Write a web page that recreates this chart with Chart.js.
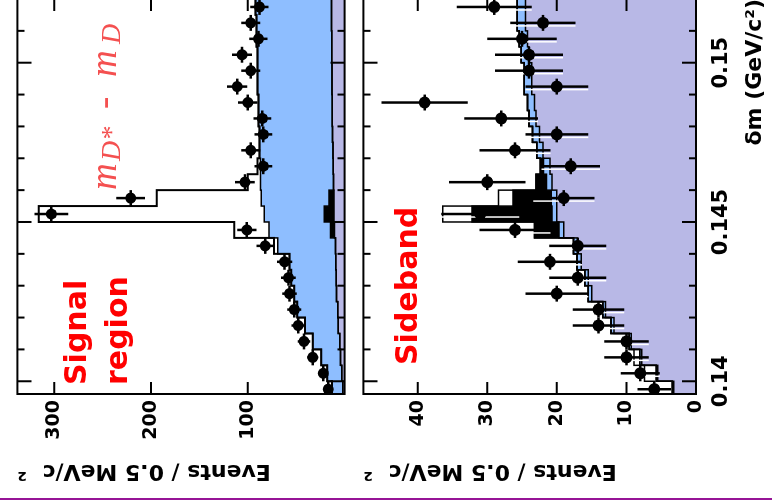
<!DOCTYPE html>
<html lang="en">
<head>
  <meta charset="utf-8" />
  <title>δm – signal region and sideband</title>
  <script src="https://cdn.jsdelivr.net/npm/chart.js"></script>
  <style>
    html, body { margin: 0; width: 772px; height: 501px; overflow: hidden; background: #fff; }
    body { position: relative; }
    /* the figure is drawn upright, then turned a quarter turn like the scan */
    #fig { position: absolute; left: 0; top: 501px; width: 510px; height: 772px; transform-origin: 0 0; transform: rotate(-90deg); }
    #fig canvas { position: absolute; left: 0; }
    #sig { top: 0; }
    #sb { top: 346px; }
    .rule { position: absolute; left: 0; top: 498px; width: 772px; height: 2px; background: #961496; }
  </style>
</head>
<body>
  <div id="fig">
    <canvas id="sig" width="510" height="362"></canvas>
    <canvas id="sb" width="510" height="426"></canvas>
  </div>
  <div class="rule"></div>

  <script>
    // δm bins, 0.5 MeV wide
    const binCenters = [0.13975, 0.14025, 0.14075, 0.14125, 0.14175, 0.14225, 0.14275, 0.14325, 0.14375, 0.14425,
      0.14475, 0.14525, 0.14575, 0.14625, 0.14675, 0.14725, 0.14775, 0.14825, 0.14875, 0.14925,
      0.14975, 0.15025, 0.15075, 0.15125, 0.15175];
    const binHalf = 0.00025;
    const dmMin = 0.1396, dmMax = 0.152;
    const dmLabels = [0.14, 0.145, 0.15];
    const dmTicks = [0.140, 0.141, 0.142, 0.143, 0.144, 0.145, 0.146, 0.147, 0.148, 0.149, 0.150, 0.151];

    // signal region
    const sigData = [17, 22, 33, 42, 48, 52, 57, 58, 62, 82, 101, 303, 221, 103, 84, 97, 84, 85, 100, 111, 97, 106, 89, 97, 88];
    const sigErr = [4.1, 4.7, 5.7, 6.5, 6.9, 7.2, 7.5, 7.6, 7.9, 9.1, 10.0, 17.4, 14.9, 10.1, 9.2, 9.8, 9.2, 9.2, 10.0, 10.5, 9.8, 10.3, 9.4, 9.8, 9.4];
    const sigSideband = [1.8, 3.0, 4.3, 5.1, 6.5, 7.2, 8.3, 8.5, 9.1, 9.4, 10.5, 11.0, 11.0, 11.4, 11.6, 12.1, 12.4, 12.7, 12.8, 13.0, 13.0, 13.2, 13.3, 13.5, 13.5];
    const sigPeakBkg = [0, 0, 0, 0, 0, 0, 0, 0, 0, 0, 4, 10, 5, 0, 0, 0, 0, 0, 0, 0, 0, 0, 0, 0, 0];
    const sigCombBkg = [11.2, 15.0, 19.7, 27.9, 34.5, 41.8, 43.7, 46.5, 47.9, 59.6, 63.5, 62.0, 70.0, 75.6, 75.4, 75.9, 75.6, 76.3, 76.2, 77.0, 77.0, 76.8, 77.7, 77.5, 78.5];
    const sigSignal = [0, 0, 0, 0, 0, 0, 0, 0, 0, 4, 36, 233, 108, 13, 3, 0, 0, 0, 0, 0, 0, 0, 0, 0, 0];
    const sigYLabels = [100, 200, 300];

    // sideband
    const sbData = [6, 8, 10, 10, 14, 14, 20, 17, 21, 17, 26, 31, 19, 30, 18, 26, 20, 28, 39, 20, 24, 24, 25, 22, 29];
    const sbErr = [2.4, 2.8, 3.2, 3.2, 3.7, 3.7, 4.5, 4.1, 4.6, 4.1, 5.1, 5.6, 4.4, 5.5, 4.2, 5.1, 4.5, 5.3, 6.2, 4.5, 4.9, 4.9, 5.0, 4.7, 5.4];
    const sbFit = [3.2, 5.5, 7.8, 9.3, 11.8, 13.0, 15.0, 15.5, 16.5, 17.0, 19.0, 20.0, 20.0, 20.7, 21.0, 22.0, 22.5, 23.0, 23.2, 23.6, 23.6, 24.0, 24.2, 24.5, 24.5];
    const sbComb = [0.2, 0.2, 0.3, 0.3, 0.4, 0.4, 0.5, 0.5, 0.6, 0.6, 0.7, 0.7, 0.8, 0.8, 0.9, 0.9, 1.0, 1.0, 1.0, 1.1, 1.1, 1.1, 1.2, 1.2, 1.2];
    const sbPeak = [0, 0, 0, 0, 0, 0, 0, 0, 0, 0, 3.5, 11.5, 5.5, 1.5, 0.5, 0, 0, 0, 0, 0, 0, 0, 0, 0, 0];
    const sbOpen = [2.6, 1.7, 0.8, 0, 0, 0, 0, 0, 0, 0, 0, 4.2, 2.1, 0, 0, 0, 0, 0, 0, 0, 0, 0, 0, 0, 0];
    const sbYLabels = [0, 10, 20, 30, 40];

    const lightBlue = '#8ebeff';
    const lavender = '#b8b8e6';

    Chart.defaults.font.family = "'DejaVu Sans', sans-serif";
    Chart.defaults.color = '#000';

    function stack(...parts) {
      return parts[0].map((_, i) => parts.reduce((s, p) => s + p[i], 0));
    }

    function steps(vals) {
      const pts = [];
      binCenters.forEach((c, i) => {
        pts.push({ x: c - binHalf, y: vals[i] }, { x: c + binHalf, y: vals[i] });
      });
      return pts;
    }

    function stepDataset(vals, extra) {
      return Object.assign({
        data: steps(vals), pointRadius: 0, borderColor: '#000', borderWidth: 1.5, tension: 0, fill: false
      }, extra);
    }

    function pointsDataset(vals, errs, r, halo) {
      return {
        data: binCenters.map((c, i) => ({ x: c, y: vals[i] })),
        errY: errs, halo: halo,
        showLine: false, pointRadius: r, pointBackgroundColor: '#000', pointBorderWidth: 0, borderWidth: 0
      };
    }

    const errorBars = {
      id: 'errorBars',
      beforeDatasetDraw(chart, args) {
        if (args.index !== 0) return;
        const ds = chart.data.datasets[0];
        const { ctx, chartArea: a, scales: { x, y } } = chart;
        ctx.save();
        ctx.beginPath();
        ctx.rect(a.left, a.top, a.right - a.left, a.bottom - a.top);
        ctx.clip();
        ds.data.forEach((p, i) => {
          const px = x.getPixelForValue(p.x);
          const py = y.getPixelForValue(p.y);
          const lo = y.getPixelForValue(p.y - ds.errY[i]);
          const hi = y.getPixelForValue(p.y + ds.errY[i]);
          if (ds.halo) {
            ctx.strokeStyle = '#fff';
            ctx.lineWidth = 1.5;
            ctx.beginPath();
            ctx.moveTo(px - 3, lo); ctx.lineTo(px - 3, hi);
            ctx.stroke();
          }
          ctx.strokeStyle = '#000';
          ctx.lineWidth = 2.5;
          ctx.beginPath();
          ctx.moveTo(px, lo); ctx.lineTo(px, hi);
          ctx.moveTo(x.getPixelForValue(p.x - binHalf), py);
          ctx.lineTo(x.getPixelForValue(p.x + binHalf), py);
          ctx.stroke();
        });
        ctx.restore();
      }
    };

    function makeFrame(yTicks) {
      return {
        id: 'frame',
        afterDatasetsDraw(chart) {
          const { ctx, chartArea: a, scales: { x, y } } = chart;
          ctx.save();
          ctx.strokeStyle = '#000';
          ctx.lineWidth = 2;
          ctx.beginPath();
          dmTicks.forEach(v => {
            const px = x.getPixelForValue(v);
            const len = dmLabels.some(m => Math.abs(m - v) < 1e-9) ? 14 : 7;
            ctx.moveTo(px, a.top); ctx.lineTo(px, a.top + len);
            ctx.moveTo(px, a.bottom); ctx.lineTo(px, a.bottom - len);
          });
          yTicks.forEach(v => {
            const py = y.getPixelForValue(v);
            ctx.moveTo(a.left, py); ctx.lineTo(a.left + 12, py);
            ctx.moveTo(a.right, py); ctx.lineTo(a.right - 12, py);
          });
          ctx.stroke();
          ctx.strokeRect(a.left, a.top, a.right - a.left, a.bottom - a.top);
          ctx.restore();
        }
      };
    }

    const sigNotes = {
      id: 'sigNotes',
      afterDraw(chart) {
        const { ctx, chartArea: a } = chart;
        ctx.save();
        ctx.fillStyle = '#f00';
        ctx.font = "bold 30px 'DejaVu Sans'";
        ctx.fillText('Signal', a.left + 9, a.top + 69);
        ctx.fillText('region', a.left + 9, a.top + 110);

        ctx.fillStyle = '#f45050';
        const base = a.top + 99;
        ctx.font = "italic 37px 'Liberation Serif'";
        ctx.fillText('m', a.left + 204, base);
        ctx.fillText('-', a.left + 285, base);
        ctx.fillText('m', a.left + 317, base);
        ctx.font = "italic 28px 'Liberation Serif'";
        ctx.fillText('D*', a.left + 233, base + 4);
        ctx.fillText('D', a.left + 350, base + 4);
        ctx.restore();
      }
    };

    const sbNotes = {
      id: 'sbNotes',
      afterDraw(chart) {
        const { ctx, chartArea: a } = chart;
        ctx.save();
        ctx.fillStyle = '#f00';
        ctx.font = "bold 30px 'DejaVu Sans'";
        ctx.fillText('Sideband', a.left + 29, a.top + 54);
        ctx.restore();
      }
    };

    function yScale(max, labels) {
      return {
        min: 0, max: max,
        afterBuildTicks: s => { s.ticks = labels.map(v => ({ value: v })); },
        afterFit: s => { s.width = 107; },
        grid: { display: false, drawTicks: false },
        border: { display: false },
        ticks: { autoSkip: false, padding: 6, font: { size: 19, weight: 'bold' }, callback: v => String(v) },
        title: {
          display: true, text: 'Events / 0.5 MeV/c  ²', align: 'end',
          font: { size: 22, weight: 'bold' }, padding: { top: 17, bottom: 0 }
        }
      };
    }

    const common = {
      responsive: false,
      animation: false,
      plugins: {
        legend: { display: false },
        tooltip: { enabled: false },
        filler: { drawTime: 'beforeDatasetsDraw' }
      }
    };

    new Chart(document.getElementById('sig'), {
      type: 'line',
      data: {
        datasets: [
          pointsDataset(sigData, sigErr, 5.5, false),
          stepDataset(stack(sigSideband, sigPeakBkg, sigCombBkg, sigSignal), { borderWidth: 2 }),
          stepDataset(stack(sigSideband, sigPeakBkg, sigCombBkg), { fill: 3, backgroundColor: lightBlue }),
          stepDataset(stack(sigSideband, sigPeakBkg), { fill: 4, backgroundColor: '#000' }),
          stepDataset(sigSideband, { fill: 'origin', backgroundColor: lavender })
        ]
      },
      options: Object.assign({}, common, {
        layout: { padding: { top: 8, bottom: 8, right: 8, left: 0 } },
        scales: {
          x: { type: 'linear', min: dmMin, max: dmMax, display: false },
          y: yScale(338, sigYLabels)
        }
      }),
      plugins: [errorBars, makeFrame(sigYLabels), sigNotes]
    });

    new Chart(document.getElementById('sb'), {
      type: 'line',
      data: {
        datasets: [
          pointsDataset(sbData, sbErr, 6, true),
          stepDataset(stack(sbFit, sbComb, sbPeak, sbOpen), { fill: 2, backgroundColor: '#fff' }),
          stepDataset(stack(sbFit, sbComb, sbPeak), { fill: 3, backgroundColor: '#000' }),
          stepDataset(stack(sbFit, sbComb), { fill: 4, backgroundColor: lightBlue }),
          stepDataset(sbFit, { fill: 'origin', backgroundColor: lavender })
        ]
      },
      options: Object.assign({}, common, {
        layout: { padding: { top: 8, bottom: 0, right: 8, left: 0 } },
        scales: {
          x: {
            type: 'linear', min: dmMin, max: dmMax,
            afterBuildTicks: s => { s.ticks = dmLabels.map(v => ({ value: v })); },
            afterFit: s => { s.height = 76; },
            grid: { display: false, drawTicks: false },
            border: { display: false },
            ticks: { autoSkip: false, maxRotation: 0, padding: 13, font: { size: 21, weight: 'bold' }, callback: v => String(v) },
            title: {
              display: true, text: 'δm (GeV/c²)', align: 'end',
              font: { size: 22, weight: 'bold' }, padding: { top: 0, bottom: 4 }
            }
          },
          y: yScale(47.8, sbYLabels)
        }
      }),
      plugins: [errorBars, makeFrame(sbYLabels.slice(1)), sbNotes]
    });
  </script>
</body>
</html>
